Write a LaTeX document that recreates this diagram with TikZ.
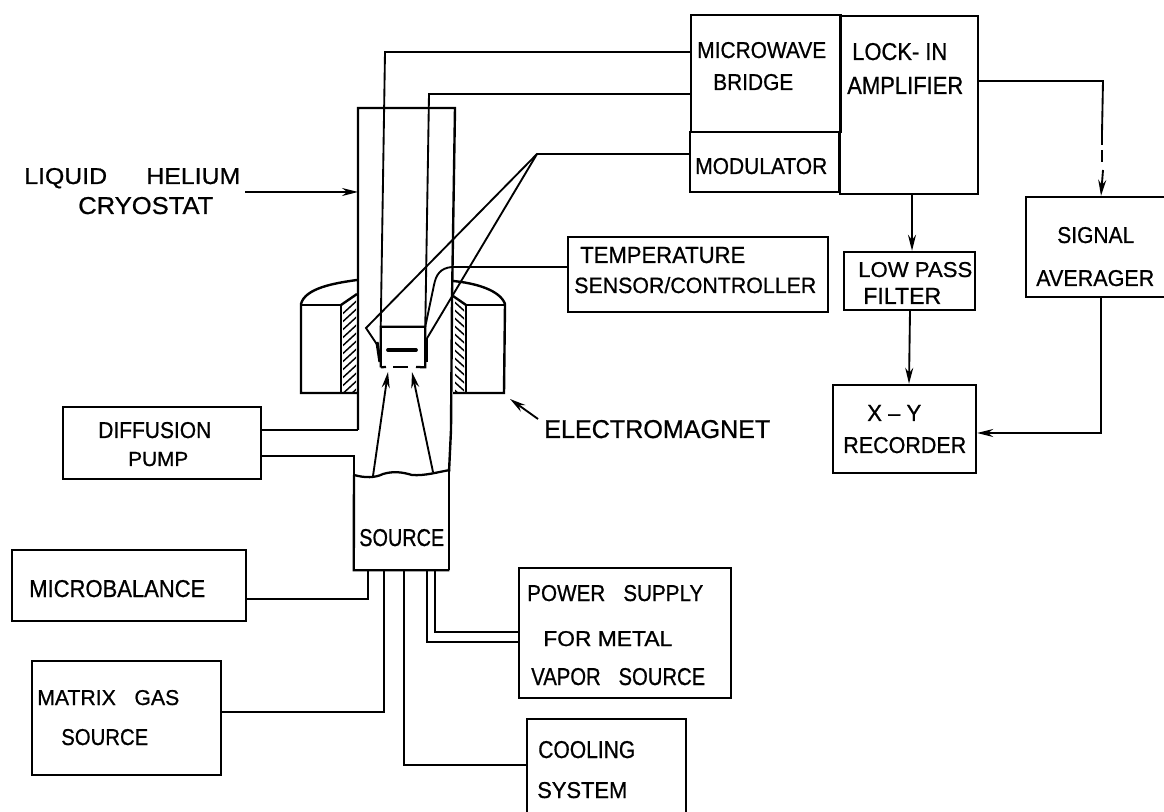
\documentclass[tikz,border=0pt]{standalone}
\usepackage{graphicx}
\usepackage{fontspec}
\setmainfont[RawFeature={embolden=0.8}]{Liberation Sans}
\usetikzlibrary{arrows.meta}
\tikzset{
  boxnode/.style={draw=black,line width=1.8pt,inner sep=0pt},
  blanknode/.style={inner sep=0pt},
  wire/.style={line width=1.4pt,line join=miter},
  wall/.style={line width=1.8pt,line join=miter},
  thin wall/.style={line width=1.1pt},
  arrowwire/.style={line width=1.4pt,-{Stealth[length=12pt,width=6pt]}},
  labeltext/.style={inner sep=0pt,anchor=base west,text=black}
}
% #1 style, #2 name, #3 x1, #4 y1, #5 x2, #6 y2
\newcommand{\mkbox}[6]{%
  \pgfmathsetlengthmacro{\bw}{(#5-#3)*0.75pt}%
  \pgfmathsetlengthmacro{\bh}{(#6-#4)*0.75pt}%
  \pgfmathsetmacro{\bx}{(#3+#5)/2}%
  \pgfmathsetmacro{\by}{(#4+#6)/2}%
  \node[#1,minimum width=\bw,minimum height=\bh] (#2) at (\bx,\by) {};%
}
% #1 name, #2 x1, #3 x2, #4 y1, #5 y2, #6 text
\newcommand{\lab}[6]{%
  \pgfmathsetlengthmacro{\lw}{(#3-#2)*0.75pt}%
  \pgfmathsetlengthmacro{\lh}{(#5-#4)*0.75pt}%
  \node[labeltext] (#1) at (#2,#5) {\resizebox{\lw}{\lh}{#6}};%
}
\begin{document}
\begin{tikzpicture}[x=0.75pt,y=-0.75pt]
\useasboundingbox (0,0) rectangle (1164,812);

% boxes
\mkbox{boxnode}{bridge}{691}{15}{841}{132}
\mkbox{boxnode}{modulator}{690}{132}{839}{192}
\mkbox{boxnode}{lockin}{840}{16}{978}{194}
\mkbox{boxnode}{signal}{1026}{197}{1170}{297}
\mkbox{boxnode}{lowpass}{844}{252}{975}{310}
\mkbox{boxnode}{recorder}{833}{385}{976}{473}
\mkbox{boxnode}{tempbox}{568}{237}{828}{312}
\mkbox{boxnode}{pump}{63}{407}{261}{479}
\mkbox{boxnode}{microbal}{12}{550}{246}{621}
\mkbox{boxnode}{matrix}{32}{661}{221}{775}
\mkbox{boxnode}{power}{519}{568}{731}{698}
\mkbox{blanknode}{cooling}{527}{719}{686}{812}
\draw[line width=1.8pt] (cooling.south west) |- (cooling.north east) -- (cooling.south east);
\mkbox{blanknode}{source}{354}{474}{449}{570}
\mkbox{blanknode}{sample}{381}{327}{425}{367}

% cryostat walls
\draw[wall] (358,430) -- (358,108) -- (455,108) -- (452,300) -- (451,430) -- (449,472);
\draw[wall] (source.south east) -- (source.south west) -- (354,475);
\draw[wall] (449,570) -- (449,470);
\draw[line width=1.7pt] (354,475) .. controls (365,478) and (375,478) .. (383,474)
  .. controls (393,471) and (402,472) .. (412,475) .. controls (425,476) and (438,472) .. (450,470);

% electromagnet
\draw[wall] (357,280) .. controls (335,283) and (305,288) .. (301,304) -- (301,393) -- (357,393);
\draw[wall] (301,305) -- (341,305) -- (341,393);
\draw[wall] (341,305) -- (357,294);
\draw[wall] (453,281) .. controls (475,283) and (500,290) .. (505,304) -- (504,393) -- (453,393);
\draw[wall] (505,305) -- (466,305) -- (466,393);
\draw[wall] (466,305) -- (453,296);
\begin{scope}
  \clip (343,306) -- (356,297) -- (356,392) -- (343,392) -- cycle;
  \foreach \k in {0,...,12} { \draw[thin wall] (338,{318+\k*8}) -- (362,{296+\k*8}); }
\end{scope}
\begin{scope}
  \clip (455,298) -- (464,306) -- (464,392) -- (455,392) -- cycle;
  \foreach \k in {0,...,12} { \draw[thin wall] (450,{290+\k*8}) -- (470,{308+\k*8}); }
\end{scope}

% sample holder
\draw[line width=1.7pt] (sample.south west) -- (386,367);
\draw[line width=1.7pt] (393,367) -- (408,367);
\draw[line width=1.7pt] (416,367) -- (sample.south east) -- (sample.north east) -- (sample.north west) -- (sample.south west);
\draw[line width=2.8pt,line cap=round] (388,350) -- (416,350);
\draw[line width=2.4pt] (377,342) -- (380,362);
\draw[line width=2.4pt] (426,338) -- (426,362);

% beams
\draw[arrowwire] (373,476) -- (388,372);
\draw[arrowwire] (433,472) -- (412,372);

% connectors
\draw[wire] (bridge.west |- 0,52) -- (385,52) -- (sample.north west);
\draw[wire] (bridge.west |- 0,94) -- (429,94) -- (sample.north east);
\coordinate (fork) at (537,154);
\draw[wire] (modulator.west |- 0,154) -- (fork) -- (366,328) -- (378,346);
\draw[wire] (fork) -- (426,340);
\draw[wire] (tempbox.west |- 0,267) -- (452,267) .. controls (440,268) and (436,275) .. (434,285) -- (sample.north east);
\draw[arrowwire] (lockin.south -| 912,0) -- (lowpass.north -| 912,0);
\draw[arrowwire] (lowpass.south -| 910,0) -- (recorder.north -| 909,0);
\draw[wire] (lockin.east |- 0,81) -- (1103,81) -- (1102,133);
\draw[wire,dash pattern=on 9pt off 4pt] (1102,133) -- (1102,165);
\draw[arrowwire] (1103,170) -- (signal.north -| 1101,0);
\draw[arrowwire] (signal.south -| 1101,0) -- (1101,433) -- (recorder.east |- 0,433);
\coordinate (heliumstart) at (245,192);
\draw[arrowwire] (heliumstart) -- (358,192);
\coordinate (magnetstart) at (538,419);
\coordinate (magnettip) at (510,399);
\draw[arrowwire] (magnetstart) -- (magnettip);
\draw[wall] (pump.east |- 0,430) -- (358,430);
\draw[wall] (pump.east |- 0,456) -- (354,456) -- (354,475);
\draw[wire] (microbal.east |- 0,599) -- (368,599) -- (368,0 |- source.south);
\draw[wire] (matrix.east |- 0,712) -- (384,712) -- (384,0 |- source.south);
\draw[wire] (cooling.west |- 0,765) -- (404,765) -- (404,0 |- source.south);
\draw[wire] (power.west |- 0,642) -- (427,642) -- (427,0 |- source.south);
\draw[wire] (power.west |- 0,632) -- (435,632) -- (435,0 |- source.south);

% labels
\lab{t1}{697}{826}{42}{58}{MICROWAVE}
\lab{t2}{713}{793}{74}{90}{BRIDGE}
\lab{t3}{695}{827}{158}{174}{MODULATOR}
\lab{t4}{852}{947}{43}{60}{LOCK- IN}
\lab{t5}{847}{963}{77}{94}{AMPLIFIER}
\lab{t6}{1057}{1134}{227}{243}{SIGNAL}
\lab{t7}{1036}{1154}{270}{286}{AVERAGER}
\lab{t8}{858}{972}{262}{277}{LOW PASS}
\lab{t9}{863}{941}{288}{304}{FILTER}
\lab{t10}{580}{745}{247}{263}{TEMPERATURE}
\lab{t11}{574}{816}{277}{293}{SENSOR/CONTROLLER}
\lab{t12}{867}{921}{405}{421}{X – Y}
\lab{t13}{843}{966}{437}{453}{RECORDER}
\lab{t14}{544}{770}{420}{438}{ELECTROMAGNET}
\lab{t15}{98}{211}{422}{438}{DIFFUSION}
\lab{t16}{128}{188}{452}{466}{PUMP}
\lab{t17}{29}{205}{580}{597}{MICROBALANCE}
\lab{t18}{37}{179}{690}{705}{MATRIX\hspace{0.6em} GAS}
\lab{t19}{61}{148}{729}{745}{SOURCE}
\lab{t20}{359}{444}{529}{546}{SOURCE}
\lab{t21}{527}{703}{585}{601}{POWER\hspace{0.6em} SUPPLY}
\lab{t22}{543}{672}{631}{646}{FOR METAL}
\lab{t23}{531}{705}{668}{685}{VAPOR\hspace{0.6em} SOURCE}
\lab{t24}{538}{635}{741}{758}{COOLING}
\lab{t25}{537}{627}{782}{798}{SYSTEM}
\lab{t26}{24}{240}{168}{184}{LIQUID\hspace{1.3em} HELIUM}
\lab{t27}{78}{213}{197}{214}{CRYOSTAT}
\end{tikzpicture}
\end{document}
